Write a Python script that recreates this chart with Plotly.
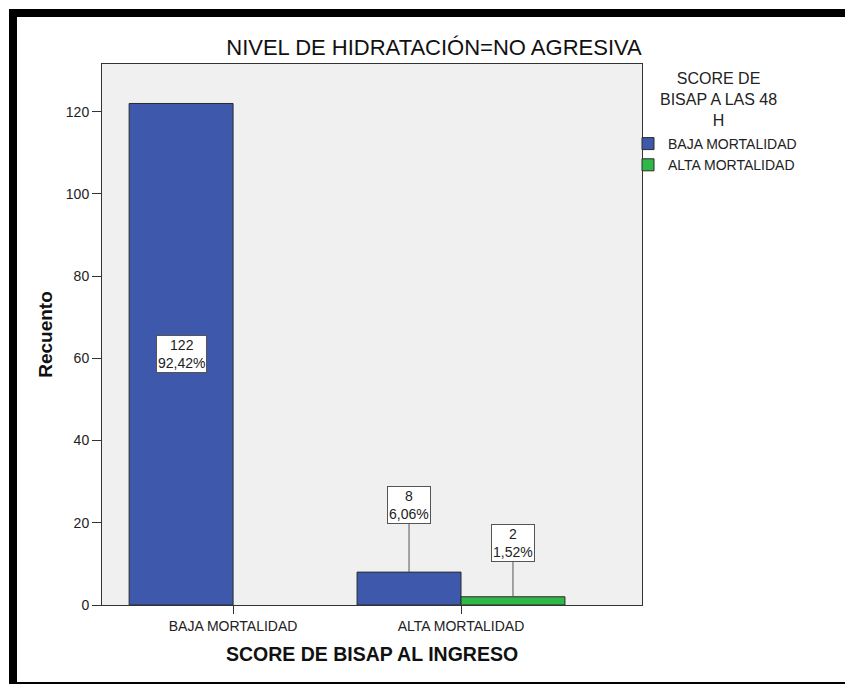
import plotly.graph_objects as go

# ---------------- data ----------------
categories = ["BAJA MORTALIDAD", "ALTA MORTALIDAD"]          # SCORE DE BISAP AL INGRESO
series_names = ["BAJA MORTALIDAD", "ALTA MORTALIDAD"]        # SCORE DE BISAP A LAS 48 H
baja_48h = [122, 8]
alta_48h = [None, 2]
y_ticks = [0, 20, 40, 60, 80, 100, 120]
legend_title = "SCORE DE<br>BISAP A LAS 48<br>H"

# ---------------- style ----------------
colors = ["#3E58AC", "#2EB848"]
FONT = "Liberation Sans, Arial, sans-serif"
BARGAP = 0.088
W, H = 845, 684
L, R, T, B = 102, 203, 64, 79           # plot area margins (px)
# label leader offsets in px (None = label inside bar at mid height)
leader_offsets = {(0, 0): None, (0, 1): -67, (1, 1): -54}

series = [baja_48h, alta_48h]
total = sum(v for s in series for v in s if v is not None)

fig = go.Figure()
for name, vals, col in zip(series_names, series, colors):
    fig.add_bar(
        x=categories, y=vals, name=name,
        marker=dict(color=col, line=dict(color="#2a2a2a", width=1)),
    )

pw, ph = W - L - R, H - T - B
def px(xp): return (xp - L) / pw
def py(yp): return (H - B - yp) / ph

# value labels
annotations = []
half = (1 - BARGAP) / 2
for si, vals in enumerate(series):
    for ci, v in enumerate(vals):
        if v is None:
            continue
        pct = f"{v / total * 100:.2f}".replace(".", ",") + "%"
        xpos = ci + (si - 0.5) * half
        common = dict(
            x=xpos, xref="x", yref="y",
            text=f"{v}<br>{pct}",
            font=dict(family=FONT, size=14, color="#222"),
            bgcolor="white", bordercolor="#555", borderwidth=1, borderpad=1,
        )
        off = leader_offsets.get((si, ci))
        if off is None:
            annotations.append(dict(y=v / 2, showarrow=False, **common))
        else:
            annotations.append(dict(y=v, showarrow=True, arrowhead=0, arrowwidth=1,
                                    arrowcolor="#555", ax=0, ay=off, standoff=0, **common))

# legend title (centered lines)
annotations.append(dict(
    text=legend_title, xref="paper", yref="paper", x=px(718), y=py(99),
    xanchor="center", yanchor="middle", align="center", showarrow=False,
    font=dict(family=FONT, size=16, color="#222"),
))

# black frame
shapes = [
    dict(type="rect", xref="paper", yref="paper", x0=px(9), x1=px(W + 2), y0=py(17), y1=py(9),
         fillcolor="black", line=dict(width=0), layer="above"),
    dict(type="rect", xref="paper", yref="paper", x0=px(9), x1=px(17), y0=py(H + 2), y1=py(9),
         fillcolor="black", line=dict(width=0), layer="above"),
    dict(type="rect", xref="paper", yref="paper", x0=px(9), x1=px(W + 2), y0=py(H + 2), y1=py(682),
         fillcolor="black", line=dict(width=0), layer="above"),
]

fig.update_layout(
    width=W, height=H,
    margin=dict(l=L, r=R, t=T, b=B, pad=0),
    paper_bgcolor="white", plot_bgcolor="#F0F0F0",
    font=dict(family=FONT, color="#222"),
    barmode="group", bargap=BARGAP, bargroupgap=0,
    title=dict(text="NIVEL DE HIDRATACIÓN=NO AGRESIVA", x=434 / W, xref="container",
               xanchor="center", y=1 - 47 / H, yref="container", yanchor="middle",
               font=dict(family=FONT, size=22, color="#111")),
    xaxis=dict(
        type="category", range=[-0.575, 1.794], showline=True, linecolor="#333", linewidth=1,
        mirror=True, ticks="outside", ticklen=8, tickcolor="#333", showgrid=False,
        tickfont=dict(family=FONT, size=14, color="#222"), automargin=False,
        title=dict(text="<b>SCORE DE BISAP AL INGRESO</b>", standoff=14,
                   font=dict(family=FONT, size=19.5, color="#111")),
    ),
    yaxis=dict(
        range=[0, 131.6], tickvals=y_ticks, showline=True, linecolor="#333", linewidth=1,
        mirror=True, ticks="outside", ticklen=9, tickcolor="#333", showgrid=False,
        zeroline=False, tickfont=dict(family=FONT, size=14, color="#222"), automargin=False,
        title=dict(text="<b>Recuento</b>", standoff=8,
                   font=dict(family=FONT, size=19, color="#111")),
    ),
    legend=dict(
        x=px(628), xanchor="left", y=py(128), yanchor="top",
        font=dict(family=FONT, size=14, color="#222"),
        bgcolor="rgba(0,0,0,0)", tracegroupgap=0, traceorder="normal",
    ),
    annotations=annotations,
    shapes=shapes,
    showlegend=True,
)

fig.write_html(
    "out.html",
    config={"displayModeBar": False},
    post_script=(
        "var s=document.createElement('style');"
        "s.textContent='html,body{margin:0;padding:0;overflow:hidden;}"
        "::-webkit-scrollbar{display:none;width:0;height:0;}';"
        "document.head.appendChild(s);"
        "document.documentElement.style.overflow='hidden';"
        "document.body.style.margin='0';document.body.style.overflow='hidden';"
    ),
)
